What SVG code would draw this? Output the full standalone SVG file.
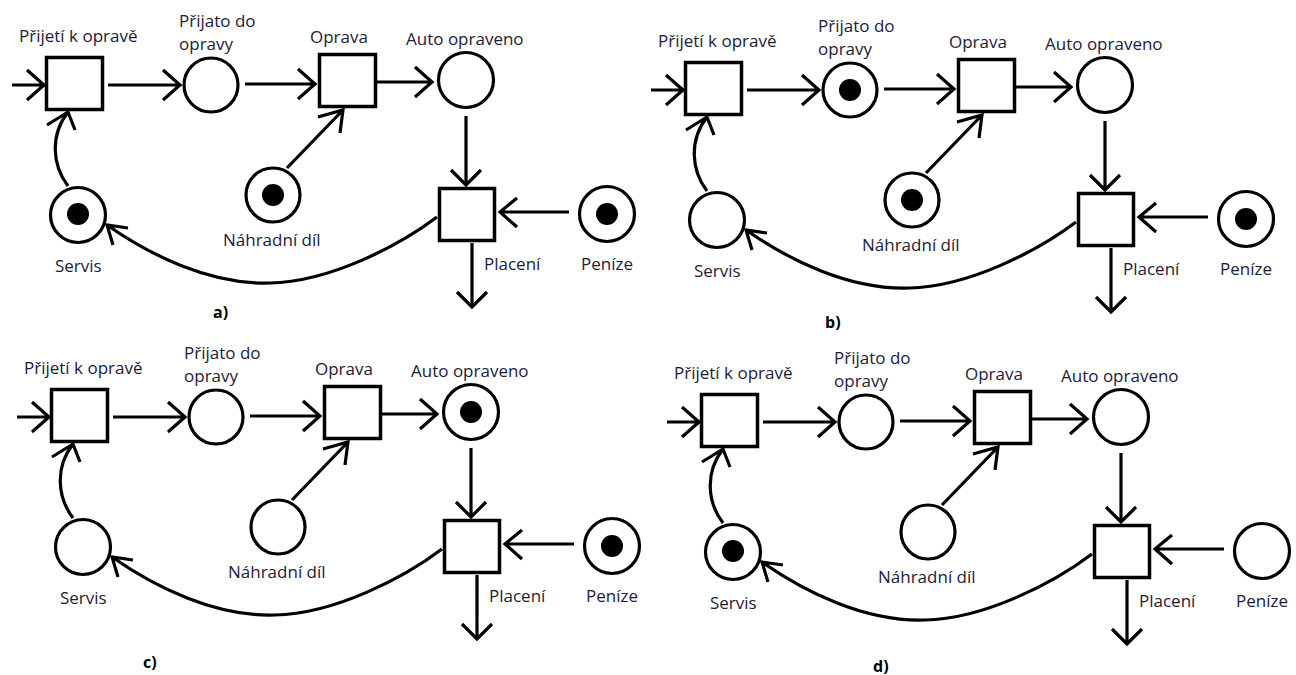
<svg xmlns="http://www.w3.org/2000/svg" width="1296" height="675" viewBox="0 0 1296 675">
  <style>
    .ln { fill: none; stroke: #000; stroke-width: 3.2; stroke-linejoin: miter; }
    .tr { fill: #fff; stroke: #000; stroke-width: 3.5; }
    .pl { fill: #fff; stroke: #000; stroke-width: 3.2; }
    .tok { fill: #000; }
    .lbl { font-family: "Open Sans", "Noto Sans", "DejaVu Sans", sans-serif; font-size: 17px; fill: #1e2038; }
    .cap { font-family: "Open Sans", "Noto Sans", "DejaVu Sans", sans-serif; font-size: 16px; font-weight: bold; fill: #000; }
  </style>
  <defs>
    <!-- arcs shared by all four nets -->
    <g id="arcs">
      <path class="ln" d="M12,85 H44 M27,70 L44,85 L27,100"/>
      <path class="ln" d="M108,85 H180 M163,70 L180,85 L163,100"/>
      <path class="ln" d="M245,84 H315 M298,69 L315,84 L298,99"/>
      <path class="ln" d="M377,82 H432 M415,67 L432,82 L415,97"/>
      <path class="ln" d="M466,116 V185 M451,170 L466,185 L481,170"/>
      <path class="ln" d="M569,212 H500 M517,198 L500,212 L517,227"/>
      <path class="ln" d="M472,243 V307 M457,292 L472,307 L487,292"/>
      <path class="ln" d="M437,217 C400,245 330,282 270,283 C210,285 150,255 107,225 M128,228 L107,225 L113,245"/>
      <path class="ln" d="M68,186 C52,165 50,135 68,112 M47,125 L68,112 L75,130"/>
      <path class="ln" d="M287,168 L343,110 M318,117 L343,110 L340,133"/>
    </g>
  </defs>

  <!-- net a) -->
  <g id="net-a">
    <g id="a-connectors"><use href="#arcs"/></g>
    <g id="a-prijeti"><rect class="tr" x="46.5" y="57.5" width="56" height="52"/><text class="lbl" x="19" y="42">Přijetí k opravě</text></g>
    <g id="a-prijato"><circle class="pl" cx="211" cy="85" r="27"/><text class="lbl" x="179" y="27">Přijato do</text><text class="lbl" x="179" y="50">opravy</text></g>
    <g id="a-oprava"><rect class="tr" x="319.5" y="54.5" width="56" height="52"/><text class="lbl" x="310" y="43">Oprava</text></g>
    <g id="a-auto"><circle class="pl" cx="466" cy="80" r="27.5"/><text class="lbl" x="406" y="45">Auto opraveno</text></g>
    <g id="a-placeni"><rect class="tr" x="439.5" y="188.5" width="55" height="52"/><text class="lbl" x="484" y="270">Placení</text></g>
    <g id="a-penize"><circle class="pl" cx="607" cy="214" r="27.5"/><circle class="tok" cx="607" cy="214" r="11"/><text class="lbl" x="581" y="270">Peníze</text></g>
    <g id="a-nahradni"><circle class="pl" cx="273" cy="195" r="27"/><circle class="tok" cx="273" cy="195" r="11"/><text class="lbl" x="223" y="246">Náhradní díl</text></g>
    <g id="a-servis"><circle class="pl" cx="78" cy="215" r="27.5"/><circle class="tok" cx="78" cy="214" r="11"/><text class="lbl" x="55" y="272">Servis</text></g>
    <text class="cap" x="213" y="318">a)</text>
  </g>

  <!-- net b) -->
  <g id="net-b" transform="translate(639,5)">
    <g id="b-connectors"><use href="#arcs"/></g>
    <g id="b-prijeti"><rect class="tr" x="46.5" y="57.5" width="56" height="52"/><text class="lbl" x="19" y="42">Přijetí k opravě</text></g>
    <g id="b-prijato"><circle class="pl" cx="211" cy="85" r="27"/><circle class="tok" cx="211" cy="85" r="11"/><text class="lbl" x="179" y="27">Přijato do</text><text class="lbl" x="179" y="50">opravy</text></g>
    <g id="b-oprava"><rect class="tr" x="319.5" y="54.5" width="56" height="52"/><text class="lbl" x="310" y="43">Oprava</text></g>
    <g id="b-auto"><circle class="pl" cx="466" cy="80" r="27.5"/><text class="lbl" x="406" y="45">Auto opraveno</text></g>
    <g id="b-placeni"><rect class="tr" x="439.5" y="188.5" width="55" height="52"/><text class="lbl" x="484" y="270">Placení</text></g>
    <g id="b-penize"><circle class="pl" cx="607" cy="214" r="27.5"/><circle class="tok" cx="607" cy="214" r="11"/><text class="lbl" x="581" y="270">Peníze</text></g>
    <g id="b-nahradni"><circle class="pl" cx="273" cy="195" r="27"/><circle class="tok" cx="273" cy="195" r="11"/><text class="lbl" x="223" y="246">Náhradní díl</text></g>
    <g id="b-servis"><circle class="pl" cx="78" cy="215" r="27.5"/><text class="lbl" x="55" y="272">Servis</text></g>
    <text class="cap" x="186" y="323">b)</text>
  </g>

  <!-- net c) -->
  <g id="net-c" transform="translate(5,332)">
    <g id="c-connectors"><use href="#arcs"/></g>
    <g id="c-prijeti"><rect class="tr" x="46.5" y="57.5" width="56" height="52"/><text class="lbl" x="19" y="42">Přijetí k opravě</text></g>
    <g id="c-prijato"><circle class="pl" cx="211" cy="85" r="27"/><text class="lbl" x="179" y="27">Přijato do</text><text class="lbl" x="179" y="50">opravy</text></g>
    <g id="c-oprava"><rect class="tr" x="319.5" y="54.5" width="56" height="52"/><text class="lbl" x="310" y="43">Oprava</text></g>
    <g id="c-auto"><circle class="pl" cx="466" cy="80" r="27.5"/><circle class="tok" cx="466" cy="80" r="11"/><text class="lbl" x="406" y="45">Auto opraveno</text></g>
    <g id="c-placeni"><rect class="tr" x="439.5" y="188.5" width="55" height="52"/><text class="lbl" x="484" y="270">Placení</text></g>
    <g id="c-penize"><circle class="pl" cx="607" cy="214" r="27.5"/><circle class="tok" cx="607" cy="214" r="11"/><text class="lbl" x="581" y="270">Peníze</text></g>
    <g id="c-nahradni"><circle class="pl" cx="273" cy="195" r="27"/><text class="lbl" x="223" y="246">Náhradní díl</text></g>
    <g id="c-servis"><circle class="pl" cx="78" cy="215" r="27.5"/><text class="lbl" x="55" y="272">Servis</text></g>
    <text class="cap" x="138" y="336">c)</text>
  </g>

  <!-- net d) -->
  <g id="net-d" transform="translate(655,337)">
    <g id="d-connectors"><use href="#arcs"/></g>
    <g id="d-prijeti"><rect class="tr" x="46.5" y="57.5" width="56" height="52"/><text class="lbl" x="19" y="42">Přijetí k opravě</text></g>
    <g id="d-prijato"><circle class="pl" cx="211" cy="85" r="27"/><text class="lbl" x="179" y="27">Přijato do</text><text class="lbl" x="179" y="50">opravy</text></g>
    <g id="d-oprava"><rect class="tr" x="319.5" y="54.5" width="56" height="52"/><text class="lbl" x="310" y="43">Oprava</text></g>
    <g id="d-auto"><circle class="pl" cx="466" cy="80" r="27.5"/><text class="lbl" x="406" y="45">Auto opraveno</text></g>
    <g id="d-placeni"><rect class="tr" x="439.5" y="188.5" width="55" height="52"/><text class="lbl" x="484" y="270">Placení</text></g>
    <g id="d-penize"><circle class="pl" cx="607" cy="214" r="27.5"/><text class="lbl" x="581" y="270">Peníze</text></g>
    <g id="d-nahradni"><circle class="pl" cx="273" cy="195" r="27"/><text class="lbl" x="223" y="246">Náhradní díl</text></g>
    <g id="d-servis"><circle class="pl" cx="78" cy="215" r="27.5"/><circle class="tok" cx="78" cy="214" r="11"/><text class="lbl" x="55" y="272">Servis</text></g>
    <text class="cap" x="218" y="335">d)</text>
  </g>
</svg>
